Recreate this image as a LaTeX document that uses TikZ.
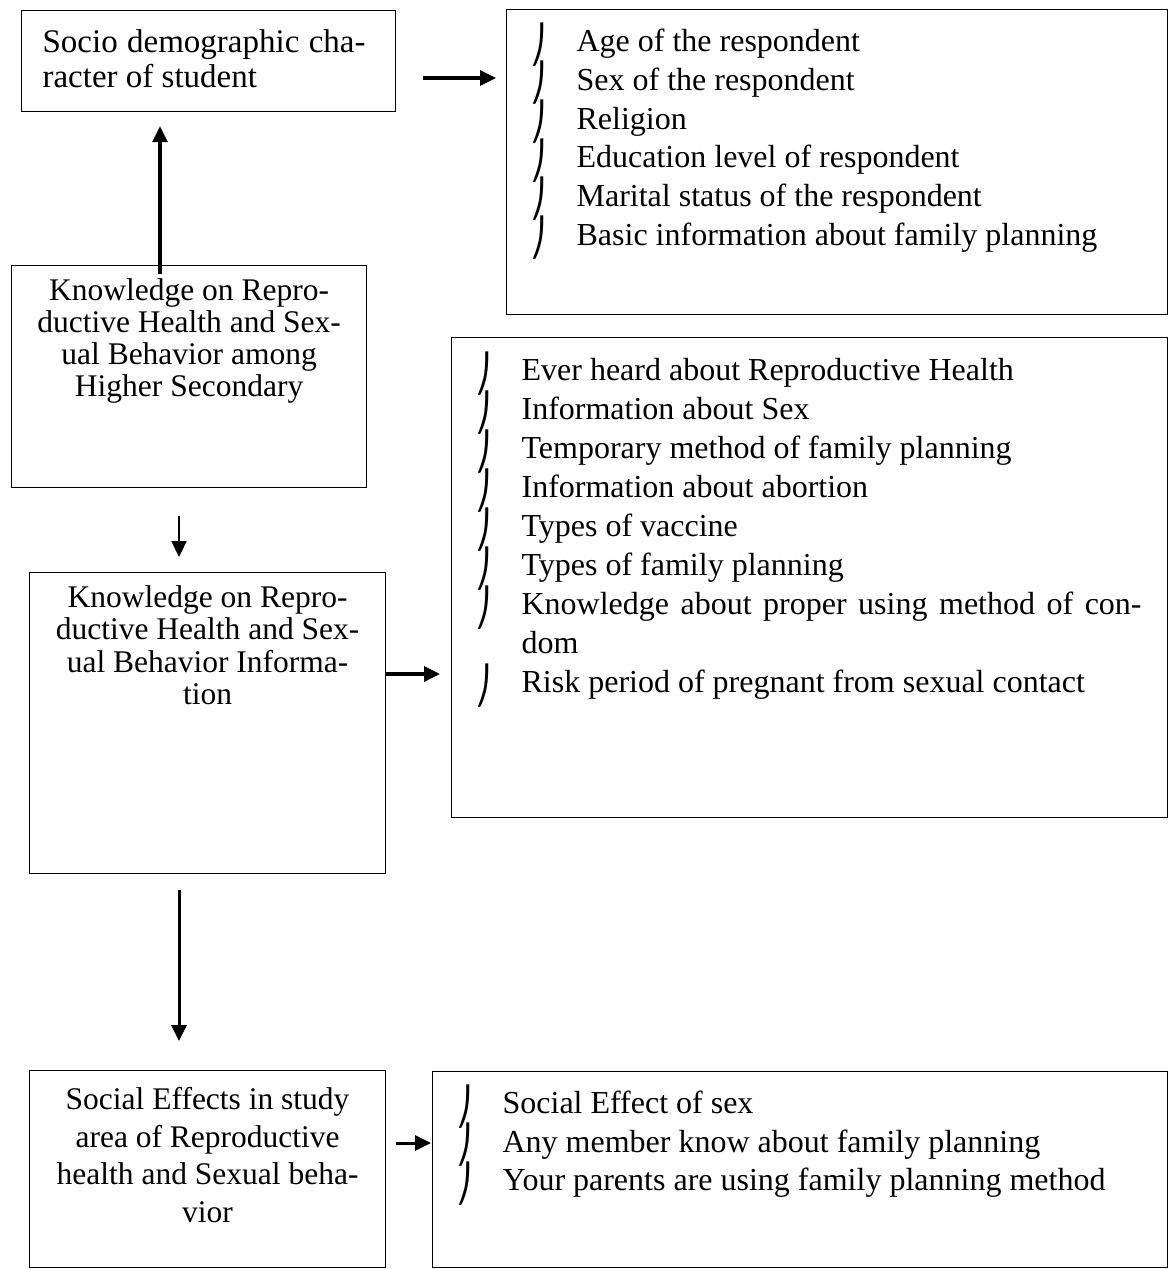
\documentclass[tikz,border=0pt]{standalone}
\usepackage{graphicx}
\usepackage{fontspec}
\setmainfont{Liberation Serif}
\newfontfamily\bulfont{DejaVu Sans}
\usetikzlibrary{arrows.meta}
\newcommand\bul{\smash{\raisebox{-5.5pt}{\scalebox{1}[1.15]{\bulfont\fontsize{32}{32}\selectfont ⎠}}}}
\newcommand\itm[1]{\hspace*{24pt}\makebox[46pt][l]{\bul}#1}
\begin{document}
\begin{tikzpicture}[x=1pt,y=-1pt,
  box/.style={draw, line width=1.2pt, inner sep=0pt, anchor=north west},
  arr/.style={-{Triangle[length=16pt,width=15pt]}, line width=3.2pt}]
\useasboundingbox (0,0) rectangle (1169,1269);

% left column boxes
\node[box] (b1) at (21,10) {\parbox[t][101pt][t]{374pt}{\fontsize{33}{35}\selectfont\raggedright\leftskip=21pt\rule{0pt}{42pt}\makebox[323pt][s]{Socio demographic cha-}\\racter of student}};
\node[box] (b3) at (11,265) {\parbox[t][222pt][t]{355pt}{\fontsize{31.5}{32}\selectfont\centering\rule{0pt}{35pt}Knowledge on Repro-\\ductive Health and Sex-\\ual Behavior among\\Higher Secondary}};
\node[box] (b4) at (29,572) {\parbox[t][301pt][t]{356pt}{\fontsize{31.5}{32.3}\selectfont\centering\rule{0pt}{35pt}Knowledge on Repro-\\ductive Health and Sex-\\ual Behavior Informa-\\tion}};
\node[box] (b5) at (29,1070) {\parbox[t][197pt][t]{356pt}{\fontsize{31.5}{37.5}\selectfont\centering\rule{0pt}{39pt}Social Effects in study\\area of Reproductive\\health and Sexual beha-\\vior}};

% right column lists
\node[box] (l1) at (506,9) {\parbox[t][305pt][t]{661pt}{\fontsize{32}{38.7}\selectfont\raggedright\rule{0pt}{42pt}%
\itm{Age of the respondent}\\
\itm{Sex of the respondent}\\
\itm{Religion}\\
\itm{Education level of respondent}\\
\itm{Marital status of the respondent}\\
\itm{Basic information about family planning}}};
\node[box] (l2) at (451,337) {\parbox[t][480pt][t]{716pt}{\fontsize{32}{39}\selectfont\raggedright\rule{0pt}{43pt}%
\itm{Ever heard about Reproductive Health}\\
\itm{Information about Sex}\\
\itm{Temporary method of family planning}\\
\itm{Information about abortion}\\
\itm{Types of vaccine}\\
\itm{Types of family planning}\\
\itm{\makebox[620pt][s]{Knowledge about proper using method of con-}}\\
\hspace*{70pt}dom\\
\itm{Risk period of pregnant from sexual contact}}};
\node[box] (l3) at (432,1071) {\parbox[t][196pt][t]{735pt}{\fontsize{32}{38.5}\selectfont\raggedright\rule{0pt}{42pt}%
\itm{Social Effect of sex}\\
\itm{Any member know about family planning}\\
\itm{Your parents are using family planning method}}};

% helper coordinates for arrow lines
\coordinate (c1) at (160,0);
\coordinate (c2) at (179,0);
\coordinate (c3) at (0,674);
\coordinate (c4) at (0,1143);
\coordinate (c5) at (0,78);

% connectors
\draw[arr, shorten <=27pt, shorten >=10pt] (b1.east |- c5) -- (l1.west |- c5);
\draw[arr, shorten <=-9pt, shorten >=14pt] (b3.north -| c1) -- (b1.south -| c1);
\draw[arr, line width=2.3pt, shorten <=28pt, shorten >=15pt] (b3.south -| c2) -- (b4.north -| c2);
\draw[arr, line width=3.4pt, shorten >=11pt] (b4.east |- c3) -- (l2.west |- c3);
\draw[arr, line width=3pt, shorten <=16pt, shorten >=29pt] (b4.south -| c2) -- (b5.north -| c2);
\draw[arr, line width=3pt, shorten <=10pt, shorten >=1pt] (b5.east |- c4) -- (l3.west |- c4);
\end{tikzpicture}
\end{document}
